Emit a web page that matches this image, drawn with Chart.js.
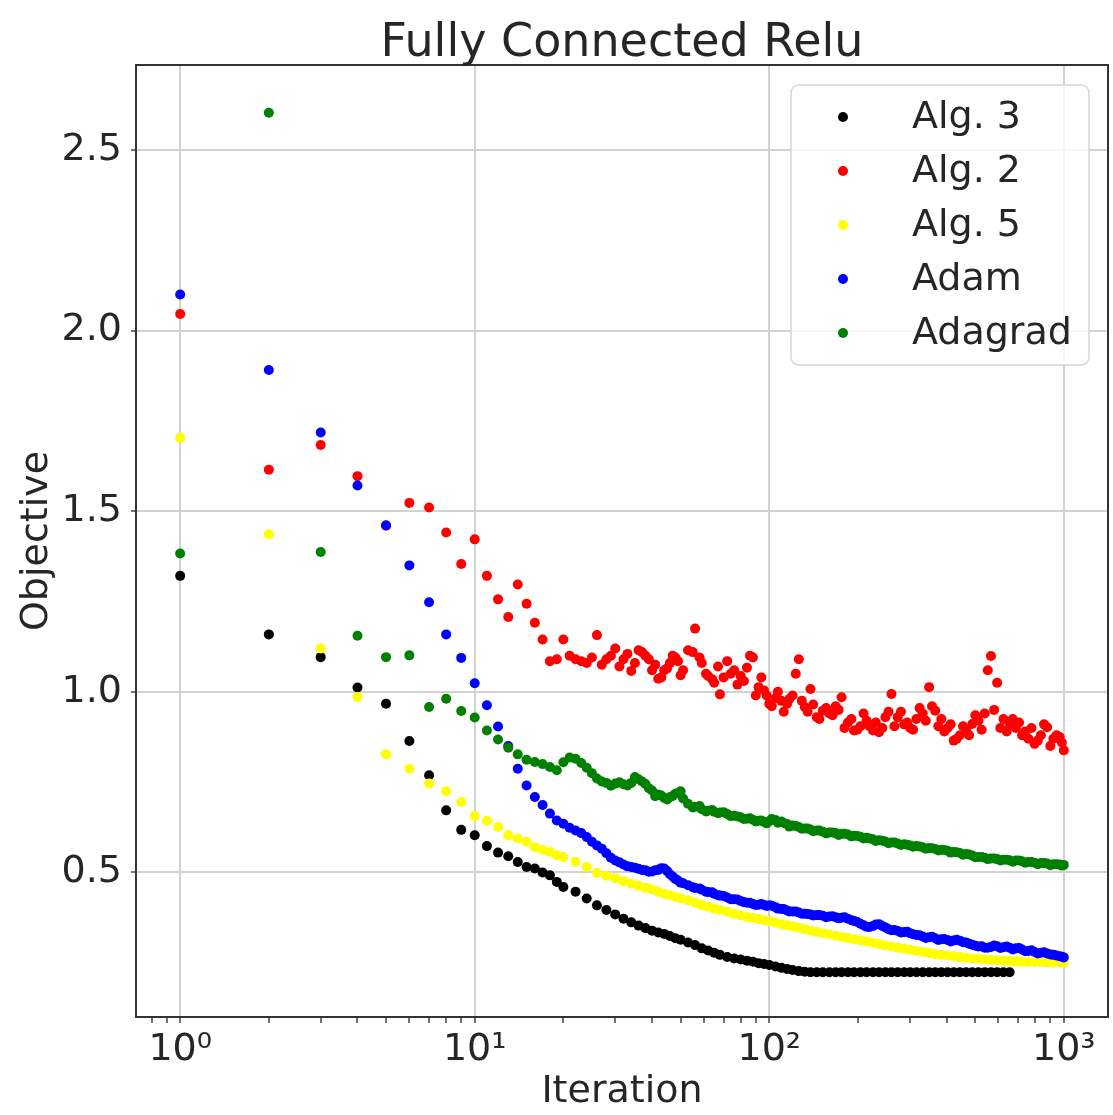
<!DOCTYPE html>
<html>
<head>
<meta charset="utf-8">
<title>Fully Connected Relu</title>
<script src="https://cdn.jsdelivr.net/npm/chart.js@4.4.1/dist/chart.umd.min.js"></script>
<style>
  html, body { margin: 0; padding: 0; background: #fff; }
  #wrap { width: 1113px; height: 1115px; position: relative; }
</style>
</head>
<body>
<div id="wrap"><canvas id="chart"></canvas></div>
<script>
const iterations = [
  1, 2, 3, 4, 5, 6, 7, 8, 9, 10, 11, 12, 13, 14, 15, 16, 17, 18, 19, 20,
  22, 24, 26, 28, 30, 32, 34, 36, 38, 40, 42, 44, 46, 48, 50,
  53, 56, 59, 62, 65, 68,
  72, 76, 80, 84, 88, 92, 96, 100,
  105, 110, 115, 120, 126, 132, 138, 145, 152, 160,
  168, 176, 185, 194, 204, 214, 225, 236, 248, 260,
  273, 287, 301, 316, 332, 349, 366, 384, 403, 423,
  444, 466, 489, 513, 539, 566, 594, 624, 655, 688,
  722, 758, 796, 836, 878, 922, 968, 1000
];

// extra iterations in between, read only for the noisy curves (Alg. 2, Adam, Adagrad)
const iterationsMid = [
  21, 23, 25, 27, 29, 31, 33, 35, 37, 39, 41, 43, 45, 47, 49,
  51, 55, 58, 61, 64, 67, 70,
  74, 78, 82, 86, 90, 94, 98,
  102, 107, 112, 117, 123, 129, 135, 141, 148, 156,
  164, 172, 180, 190, 199, 209, 219, 230, 242, 254,
  266, 280, 294, 308, 324, 340, 357, 375, 393, 413,
  433, 455, 477, 501, 526, 552, 580, 609, 640, 671,
  705, 740, 777, 816, 857, 900, 945, 985
];

// Alg. 3 (black) - stops around iteration 650
const alg3 = [
  1.321, 1.159, 1.096, 1.012, 0.967, 0.864, 0.769, 0.672, 0.618, 0.603, 0.573, 0.555, 0.545, 0.529, 0.515, 0.511, 0.500, 0.492, 0.474, 0.460,
  0.447, 0.428, 0.409, 0.396, 0.384, 0.372, 0.362, 0.353, 0.346, 0.339, 0.334, 0.330, 0.324, 0.318, 0.314,
  0.306, 0.299, 0.290, 0.284, 0.278, 0.272,
  0.266, 0.262, 0.259, 0.256, 0.253, 0.249, 0.247, 0.244,
  0.240, 0.236, 0.233, 0.230, 0.227, 0.225, 0.224, 0.224, 0.224, 0.224,
  0.224, 0.224, 0.224, 0.224, 0.224, 0.224, 0.224, 0.224, 0.224, 0.224,
  0.224, 0.224, 0.224, 0.224, 0.224, 0.224, 0.224, 0.224, 0.224, 0.224,
  0.224, 0.224, 0.224, 0.224, 0.224, 0.224, 0.224, 0.224, 0.224, null,
  null, null, null, null, null, null, null, null
];

// Alg. 2 (red)
const alg2 = [
  2.046, 1.615, 1.683, 1.597, 1.460, 1.523, 1.510, 1.441, 1.354, 1.422, 1.321, 1.256, 1.207, 1.297, 1.244, 1.191, 1.145, 1.085, 1.090, 1.145,
  1.090, 1.080, 1.157, 1.090, 1.120, 1.090, 1.058, 1.115, 1.100, 1.060, 1.036, 1.060, 1.080, 1.095, 1.046,
  1.115, 1.175, 1.080, 1.044, 1.025, 0.993,
  1.085, 1.060, 1.044, 1.067, 1.095, 1.013, 1.004, 0.967,
  0.982, 0.975, 0.967, 0.990, 1.090, 0.958, 1.008, 0.930, 0.948, 0.940,
  0.960, 0.985, 0.915, 0.893, 0.905, 0.920, 0.893, 0.888, 0.930, 0.994,
  0.930, 0.910, 0.900, 0.925, 0.940, 1.013, 0.948, 0.925, 0.900, 0.865,
  0.880, 0.895, 0.911, 0.920, 0.940, 1.099, 1.025, 0.925, 0.911, 0.900,
  0.880, 0.870, 0.856, 0.880, 0.902, 0.870, 0.875, 0.838
];
const alg2Mid = [
  1.100, 1.085, 1.095, 1.075, 1.100, 1.070, 1.105, 1.080, 1.110, 1.090, 1.075, 1.040, 1.065, 1.100, 1.085,
  1.060, 1.110, 1.095, 1.050, 1.035, 1.070, 1.040,
  1.050, 1.020, 1.030, 1.100, 0.990, 1.040, 0.990,
  0.960, 1.000, 0.945, 0.980, 1.050, 0.975, 0.945, 0.965, 0.925, 0.955,
  0.935, 0.950, 0.900, 0.925, 0.895, 0.940, 0.905, 0.915, 0.900, 0.945,
  0.905, 0.945, 0.915, 0.895, 0.955, 0.920, 0.960, 0.905, 0.890, 0.910,
  0.870, 0.905, 0.880, 0.935, 0.895, 1.060, 0.950, 0.900, 0.890, 0.925,
  0.915, 0.890, 0.900, 0.865, 0.910, 0.850, 0.880, 0.860
];

// Alg. 5 (yellow)
const alg5 = [
  1.703, 1.436, 1.120, 0.986, 0.827, 0.787, 0.746, 0.725, 0.695, 0.656, 0.643, 0.626, 0.603, 0.594, 0.585, 0.570, 0.563, 0.557, 0.548, 0.543,
  0.530, 0.515, 0.499, 0.491, 0.484, 0.476, 0.469, 0.463, 0.458, 0.453, 0.447, 0.441, 0.437, 0.432, 0.428,
  0.423, 0.416, 0.410, 0.405, 0.400, 0.396,
  0.391, 0.386, 0.381, 0.377, 0.374, 0.371, 0.368, 0.365,
  0.361, 0.357, 0.354, 0.351, 0.347, 0.343, 0.339, 0.335, 0.332, 0.329,
  0.325, 0.322, 0.318, 0.315, 0.312, 0.309, 0.305, 0.302, 0.298, 0.295,
  0.292, 0.289, 0.286, 0.283, 0.280, 0.277, 0.274, 0.272, 0.270, 0.268,
  0.266, 0.264, 0.262, 0.261, 0.259, 0.258, 0.257, 0.256, 0.255, 0.254,
  0.253, 0.253, 0.252, 0.252, 0.251, 0.251, 0.251, 0.250
];

// Adam (blue)
const adam = [
  2.100, 1.891, 1.718, 1.571, 1.461, 1.350, 1.248, 1.159, 1.094, 1.024, 0.963, 0.904, 0.850, 0.787, 0.741, 0.709, 0.687, 0.663, 0.644, 0.635,
  0.616, 0.598, 0.575, 0.553, 0.533, 0.522, 0.515, 0.510, 0.506, 0.503, 0.507, 0.511, 0.495, 0.482, 0.472,
  0.465, 0.457, 0.452, 0.446, 0.441, 0.436,
  0.431, 0.426, 0.421, 0.416, 0.413, 0.411, 0.410, 0.409,
  0.404, 0.399, 0.395, 0.392, 0.389, 0.386, 0.384, 0.382, 0.380, 0.378,
  0.376, 0.375, 0.372, 0.366, 0.358, 0.350, 0.352, 0.357, 0.348, 0.340,
  0.338, 0.335, 0.332, 0.327, 0.323, 0.321, 0.318, 0.315, 0.313, 0.312,
  0.311, 0.306, 0.300, 0.295, 0.292, 0.294, 0.296, 0.293, 0.292, 0.290,
  0.287, 0.283, 0.280, 0.278, 0.276, 0.272, 0.268, 0.265
];
const adamMid = [
  0.624, 0.609, 0.585, 0.566, 0.541, 0.528, 0.517, 0.513, 0.507, 0.502, 0.506, 0.512, 0.504, 0.489, 0.478,
  0.470, 0.459, 0.456, 0.447, 0.445, 0.437, 0.435,
  0.426, 0.425, 0.418, 0.416, 0.410, 0.413, 0.407,
  0.408, 0.400, 0.399, 0.392, 0.392, 0.386, 0.385, 0.381, 0.382, 0.376,
  0.379, 0.373, 0.376, 0.368, 0.363, 0.354, 0.349, 0.356, 0.352, 0.343,
  0.341, 0.334, 0.336, 0.329, 0.326, 0.319, 0.322, 0.313, 0.316, 0.309,
  0.314, 0.307, 0.303, 0.297, 0.296, 0.292, 0.298, 0.291, 0.295, 0.287,
  0.291, 0.282, 0.285, 0.276, 0.279, 0.273, 0.270, 0.267
];

// Adagrad (green)
const adagrad = [
  1.383, 2.603, 1.387, 1.155, 1.096, 1.101, 0.958, 0.981, 0.947, 0.929, 0.893, 0.868, 0.845, 0.827, 0.812, 0.806, 0.800, 0.792, 0.783, 0.805,
  0.815, 0.790, 0.760, 0.748, 0.746, 0.744, 0.748, 0.758, 0.745, 0.727, 0.716, 0.706, 0.708, 0.718, 0.725,
  0.690, 0.682, 0.675, 0.671, 0.668, 0.666,
  0.662, 0.657, 0.653, 0.649, 0.646, 0.643, 0.640, 0.642,
  0.645, 0.641, 0.634, 0.630, 0.626, 0.622, 0.619, 0.616, 0.613, 0.611,
  0.609, 0.607, 0.605, 0.602, 0.599, 0.596, 0.592, 0.589, 0.586, 0.583,
  0.580, 0.578, 0.575, 0.573, 0.570, 0.568, 0.565, 0.563, 0.560, 0.557,
  0.554, 0.551, 0.547, 0.543, 0.541, 0.539, 0.537, 0.535, 0.534, 0.533,
  0.531, 0.529, 0.527, 0.526, 0.525, 0.523, 0.522, 0.521
];
const adagradMid = [
  0.818, 0.803, 0.775, 0.752, 0.740, 0.750, 0.741, 0.764, 0.752, 0.733, 0.711, 0.713, 0.702, 0.712, 0.720,
  0.705, 0.680, 0.684, 0.669, 0.673, 0.664, 0.667,
  0.656, 0.655, 0.648, 0.650, 0.641, 0.644, 0.636,
  0.648, 0.638, 0.637, 0.627, 0.629, 0.621, 0.622, 0.614, 0.616, 0.608,
  0.611, 0.604, 0.607, 0.600, 0.601, 0.594, 0.594, 0.587, 0.588, 0.581,
  0.583, 0.576, 0.577, 0.571, 0.572, 0.566, 0.567, 0.561, 0.562, 0.555,
  0.556, 0.549, 0.550, 0.542, 0.543, 0.537, 0.539, 0.533, 0.535, 0.530,
  0.533, 0.527, 0.529, 0.523, 0.526, 0.520, 0.523, 0.519
];

const seriesNames = ['Alg. 3', 'Alg. 2', 'Alg. 5', 'Adam', 'Adagrad'];
const seriesColors = ['#000000', '#ff0000', '#ffff00', '#0000ff', '#008000'];
const seriesValues = [alg3, alg2, alg5, adam, adagrad];
const seriesMidValues = [null, alg2Mid, null, adamMid, adagradMid];

const xMajorTicks = [1, 10, 100, 1000];
const xTickLabels = ['10⁰', '10¹', '10²', '10³'];
const yTicks = [0.5, 1.0, 1.5, 2.0, 2.5];

const FONT = 'DejaVu Sans';
const TEXT = '#262626';

// log axis minor ticks: 2..9 of every decade inside the view
const xAllTicks = [];
[0.1, 1, 10, 100].forEach(d => {
  for (let k = 1; k <= 9; k++) {
    const v = +(d * k).toPrecision(3);
    if (v > 0.708 && v < 1413) xAllTicks.push(v);
  }
});
xAllTicks.push(1000);

const isMajor = v => xMajorTicks.some(m => Math.abs(m - v) < 1e-9);

const toPoints = (xs, ys) => xs.map((x, j) => ({ x: x, y: ys[j] })).filter(p => p.y !== null);

const datasets = seriesValues.map((vals, i) => {
  let pts = toPoints(iterations, vals);
  if (seriesMidValues[i]) pts = pts.concat(toPoints(iterationsMid, seriesMidValues[i]));
  return {
    label: seriesNames[i],
    data: pts,
    backgroundColor: seriesColors[i],
    borderWidth: 0,
    pointRadius: 5,
    pointHoverRadius: 5,
    order: seriesValues.length - 1 - i
  };
});

const decorations = {
  id: 'decorations',
  afterDatasetsDraw(chart) {
    const { ctx, chartArea: a } = chart;
    ctx.save();
    ctx.strokeStyle = '#333';
    ctx.lineWidth = 2;
    ctx.strokeRect(a.left, a.top, a.right - a.left, a.bottom - a.top);
    ctx.restore();
  },
  afterDraw(chart) {
    const { ctx, chartArea: a } = chart;
    ctx.save();
    // title
    ctx.fillStyle = TEXT;
    ctx.font = '46px "' + FONT + '"';
    ctx.textAlign = 'center';
    ctx.textBaseline = 'alphabetic';
    ctx.fillText('Fully Connected Relu', (a.left + a.right) / 2, 56);

    // legend box in upper right corner
    const w = 298, h = 280;
    const x0 = a.right - 19 - w, y0 = a.top + 20;
    ctx.beginPath();
    ctx.roundRect(x0, y0, w, h, 8);
    ctx.fillStyle = 'rgba(255,255,255,0.8)';
    ctx.fill();
    ctx.strokeStyle = '#d6d6d6';
    ctx.lineWidth = 1.5;
    ctx.stroke();

    ctx.font = '38px "' + FONT + '"';
    ctx.textAlign = 'left';
    ctx.textBaseline = 'middle';
    seriesNames.forEach((name, i) => {
      const cy = y0 + 32 + i * 54;
      ctx.beginPath();
      ctx.arc(x0 + 52, cy, 5, 0, Math.PI * 2);
      ctx.fillStyle = seriesColors[i];
      ctx.fill();
      ctx.fillStyle = TEXT;
      ctx.fillText(name, x0 + 121, cy + 1);
    });
    ctx.restore();
  }
};

new Chart(document.getElementById('chart'), {
  type: 'scatter',
  data: { datasets: datasets },
  options: {
    responsive: true,
    maintainAspectRatio: false,
    animation: false,
    layout: { padding: { top: 65, right: 4, left: 0, bottom: 0 } },
    plugins: {
      legend: { display: false },
      tooltip: { enabled: false }
    },
    scales: {
      x: {
        type: 'logarithmic',
        min: 0.708,
        max: 1413,
        bounds: 'data',
        afterBuildTicks: scale => {
          scale.ticks = xAllTicks.map(v => ({ value: v, major: isMajor(v) }));
        },
        afterFit: scale => { scale.height = 98; },
        border: { display: false },
        grid: {
          color: c => (c.tick && isMajor(c.tick.value)) ? '#d2d2d2' : 'rgba(0,0,0,0)',
          lineWidth: 2,
          tickColor: '#444',
          tickLength: 6,
          tickWidth: 1.5
        },
        ticks: {
          autoSkip: false,
          maxRotation: 0,
          padding: 4,
          color: TEXT,
          font: { family: FONT, size: 38 },
          callback: v => {
            const k = xMajorTicks.findIndex(m => Math.abs(m - v) < 1e-9);
            return k >= 0 ? xTickLabels[k] : '';
          }
        },
        title: {
          display: true,
          text: 'Iteration',
          color: TEXT,
          font: { family: FONT, size: 38 },
          padding: { top: 0, bottom: 0 }
        }
      },
      y: {
        type: 'linear',
        min: 0.10,
        max: 2.735,
        bounds: 'data',
        afterBuildTicks: scale => {
          scale.ticks = yTicks.map(v => ({ value: v }));
        },
        afterFit: scale => { scale.width = 136; },
        border: { display: false },
        grid: {
          color: '#d2d2d2',
          lineWidth: 2,
          tickColor: '#444',
          tickLength: 5,
          tickWidth: 1.5
        },
        ticks: {
          padding: 9,
          color: TEXT,
          font: { family: FONT, size: 38 },
          callback: v => v.toFixed(1)
        },
        title: {
          display: true,
          text: 'Objective',
          color: TEXT,
          font: { family: FONT, size: 38 },
          padding: { top: 14, bottom: 0 }
        }
      }
    }
  },
  plugins: [decorations]
});
</script>
</body>
</html>
